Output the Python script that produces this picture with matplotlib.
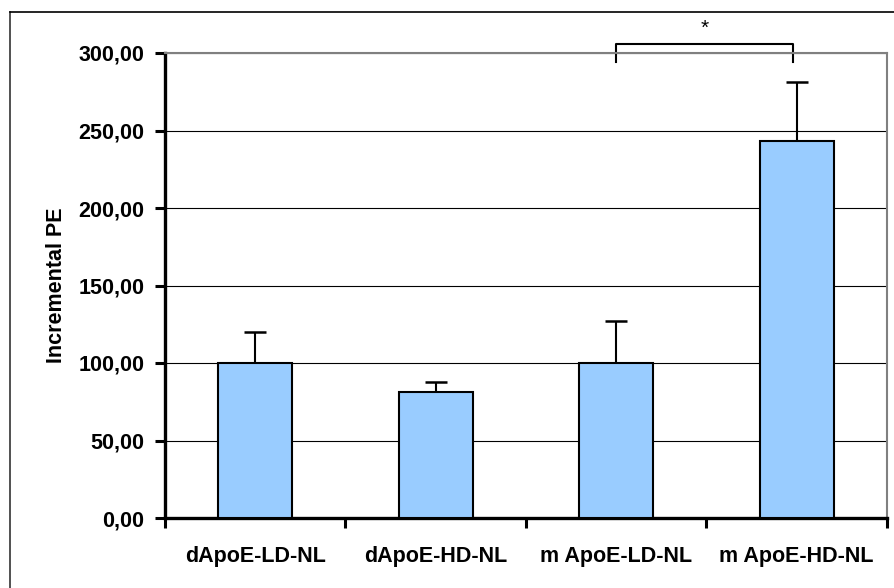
import numpy as np
import matplotlib
matplotlib.use("Agg")
import matplotlib.pyplot as plt
from matplotlib.lines import Line2D
from matplotlib.ticker import FuncFormatter, FixedLocator

groups = ["dApoE-LD-NL", "dApoE-HD-NL", "m ApoE-LD-NL", "m ApoE-HD-NL"]
means = [100, 81, 100, 243]
err_up = [20, 7, 27, 38]

plt.rcParams['font.family'] = ['Liberation Sans', 'DejaVu Sans']

fig = plt.figure(figsize=(8.95, 5.88), dpi=100)
ax = fig.add_axes([165/895, 1-518/588, (887-165)/895, (518-53)/588])

x = np.arange(len(groups))
ax.yaxis.grid(True, color='black', lw=0.8)
ax.set_axisbelow(True)
ax.bar(x, means, width=0.41, color='#99ccff', edgecolor='black', lw=1.5, zorder=3)
ax.errorbar(x, means, yerr=[np.zeros(len(means)), err_up], fmt='none',
            ecolor='black', elinewidth=1.5, capsize=8, capthick=1.8, zorder=2)

ax.set_xlim(-0.5, 3.5)
ax.set_ylim(0, 300)
ax.set_yticks(np.arange(0, 301, 50))
ax.yaxis.set_major_formatter(FuncFormatter(lambda v, p: f"{v:.2f}".replace('.', ',')))
ax.xaxis.set_major_locator(FixedLocator(np.arange(-0.5, 3.6, 1)))
ax.xaxis.set_minor_locator(FixedLocator(x))
ax.set_xticklabels([])
ax.set_xticklabels(groups, minor=True)
ax.tick_params(axis='x', which='minor', length=0, pad=20, labelsize=15.5)
ax.tick_params(axis='x', which='major', length=7, width=2.2, direction='out')
ax.tick_params(axis='y', length=7, width=2.2, direction='out', pad=8, labelsize=15.5)
for lab in ax.get_xticklabels(minor=True) + ax.get_yticklabels():
    lab.set_fontweight('bold')

for s in ['left', 'bottom']:
    ax.spines[s].set_linewidth(2.4)
    ax.spines[s].set_color('black')
for s in ['top', 'right']:
    ax.spines[s].set_linewidth(1.5)
    ax.spines[s].set_color('#808080')

ax.set_ylabel("Incremental PE", fontsize=15.5, fontweight='bold', labelpad=8)

# significance bracket
ax.plot([2, 2, 2.98, 2.98], [294, 306, 306, 294], color='black', lw=1.5, clip_on=False)
ax.text(2.49, 310, "*", ha='center', va='bottom', fontsize=15)

# outer frame
fig.add_artist(Line2D([10/895, 10/895], [0, 1-12/588], color='#333333', lw=1.2))
fig.add_artist(Line2D([10/895, 1], [1-12/588, 1-12/588], color='black', lw=1.2))

fig.savefig("out.png", dpi=100)
